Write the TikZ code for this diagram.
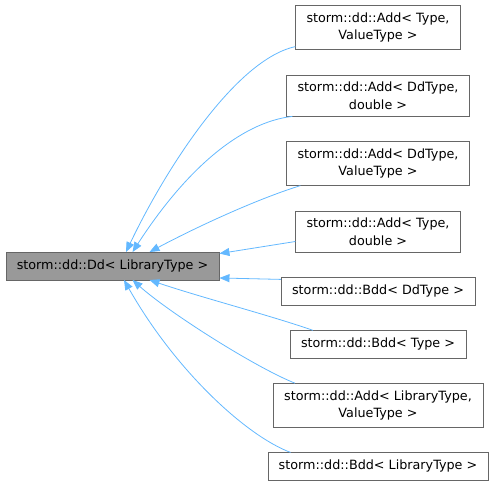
\documentclass[tikz,border=0pt]{standalone}
\usepackage{fontspec}
\setmainfont{DejaVu Sans}
\usetikzlibrary{positioning, arrows.meta}

\definecolor{edgeblue}{RGB}{99,184,255}
\definecolor{boxgray}{RGB}{102,102,102}

\begin{document}
\begin{tikzpicture}[
  x=1pt, y=-1pt,
  >={Triangle[length=10pt, width=8pt]},
  node distance=25pt,
  box/.style={draw=boxgray, fill=white, align=center, inner xsep=11pt, inner ysep=7pt, minimum height=27.5pt, font=\fontsize{12.75}{17.5}\selectfont},
  base/.style={box, fill=gray!80},
  edge/.style={->, draw=edgeblue, line width=0.8pt}
]
\useasboundingbox (0,0) rectangle (494,487);

% Derived classes (right column)
\node[box] (addTV) at (378,27.5) {storm::dd::Add< Type,\\ValueType >};
\node[box, below=of addTV] (addDdD) {storm::dd::Add< DdType,\\double >};
\node[box, below=of addDdD] (addDdV) {storm::dd::Add< DdType,\\ValueType >};
\node[box, below=of addDdV] (addTD) {storm::dd::Add< Type,\\double >};
\node[box, below=of addTD] (bddDd) {storm::dd::Bdd< DdType >};
\node[box, below=of bddDd] (bddT) {storm::dd::Bdd< Type >};
\node[box, below=of bddT] (addLib) {storm::dd::Add< LibraryType,\\ValueType >};
\node[box, below=of addLib] (bddLib) {storm::dd::Bdd< LibraryType >};

% Base class
\node[base] (dd) at (112.5,266) {storm::dd::Dd< LibraryType >};

% Inheritance arrows
\draw[edge] ([yshift=3pt]addTV.south west) .. controls +(-60,13) and +(39,-82) .. ([xshift=13.5pt]dd.north);
\draw[edge] ([xshift=6pt]addDdD.south west) .. controls +(-52,6) and +(53,-82) .. ([xshift=20pt]dd.north);
\draw[edge] ([xshift=14pt]addDdV.south west) .. controls +(-45,14) and +(45,-24) .. ([xshift=37pt]dd.north);
\draw[edge] ([yshift=-10pt]addTD.west) -- ([yshift=-1.5pt]dd.north east);
\draw[edge] ([yshift=-2pt]bddDd.north west) -- ([yshift=2pt]dd.south east);
\draw[edge] ([xshift=23pt]bddT.north west) .. controls +(-43,-15) and +(50,17) .. ([xshift=37pt]dd.south);
\draw[edge] ([xshift=22pt]addLib.north west) .. controls +(-40,-16) and +(37,33) .. ([xshift=20pt]dd.south);
\draw[edge] ([xshift=23pt]bddLib.north west) .. controls +(-45,-17) and +(51,90) .. ([xshift=11.5pt]dd.south);

\end{tikzpicture}
\end{document}
